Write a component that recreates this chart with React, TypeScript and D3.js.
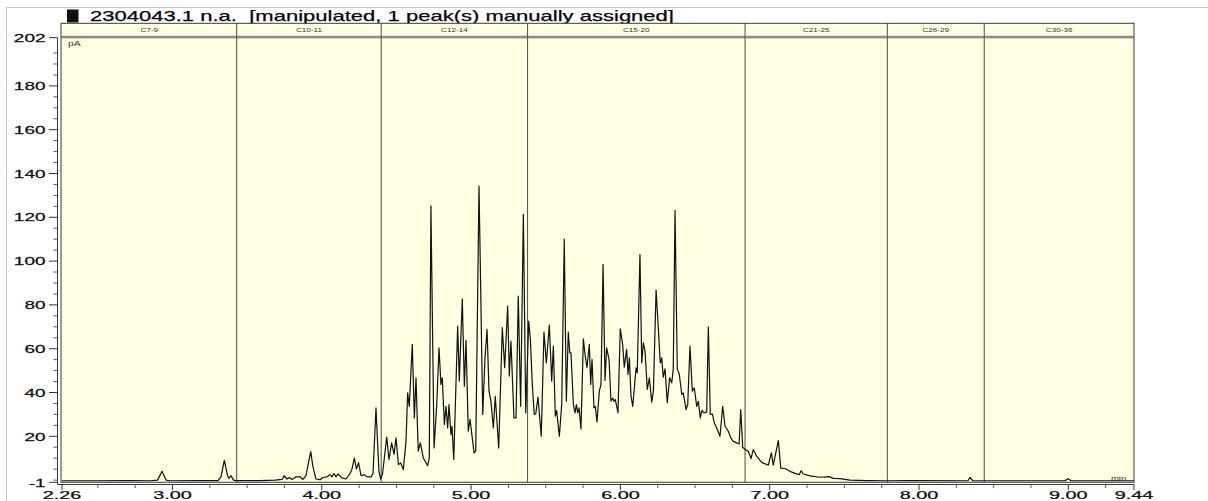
import React, { useEffect, useRef } from 'react';
import * as d3 from 'd3';

// carbon-range windows along the run (minutes)
const regionNames = ['C7-9', 'C10-11', 'C12-14', 'C15-20', 'C21-25', 'C26-29', 'C30-36'];
const regionEdges = [2.26, 3.43, 4.398, 5.378, 6.835, 7.788, 8.437, 9.44];

const xTickLabels = [2.26, 3, 4, 5, 6, 7, 8, 9, 9.44];
const yTickLabels = [-1, 20, 40, 60, 80, 100, 120, 140, 160, 180, 202];

// chromatogram trace: time (min) / signal (pA)
const retentionTimes = [
  2.26, 2.5, 2.7, 2.85, 2.9, 2.93, 2.957, 2.983, 3.184, 3.305, 3.325, 3.347, 3.369, 3.379, 3.392, 3.409,
  3.425, 3.586, 3.687, 3.734, 3.747, 3.767, 3.783, 3.801, 3.827, 3.854, 3.874, 3.894, 3.911, 3.926, 3.941,
  3.961, 3.988, 4.008, 4.035, 4.055, 4.068, 4.082, 4.095, 4.109, 4.135, 4.162, 4.189, 4.202, 4.218, 4.232,
  4.246, 4.263, 4.283, 4.303, 4.33, 4.343, 4.353, 4.363, 4.373, 4.383, 4.394, 4.407,
  4.435, 4.45, 4.468, 4.484, 4.497, 4.513, 4.529, 4.546, 4.564, 4.575, 4.586, 4.606, 4.62, 4.631, 4.646,
  4.66, 4.68, 4.709, 4.72, 4.731, 4.752, 4.77, 4.785, 4.798, 4.807, 4.821, 4.832, 4.843, 4.852, 4.865,
  4.872, 4.884, 4.91, 4.921, 4.941, 4.955, 4.966, 4.981, 4.993, 5.02, 5.031, 5.053, 5.078, 5.093, 5.107,
  5.12, 5.133, 5.149, 5.162, 5.185, 5.209, 5.225, 5.245, 5.256, 5.267, 5.287, 5.301, 5.316, 5.332, 5.35,
  5.366, 5.386, 5.397, 5.41, 5.423, 5.433, 5.448, 5.47, 5.488, 5.504, 5.524, 5.54, 5.551, 5.564, 5.573,
  5.591, 5.607, 5.624, 5.638, 5.651, 5.661, 5.669, 5.685, 5.696, 5.705, 5.714, 5.723, 5.736, 5.752, 5.763,
  5.776, 5.792, 5.801, 5.81, 5.823, 5.832, 5.843, 5.859, 5.87, 5.884, 5.897, 5.908, 5.924, 5.937, 5.949,
  5.957, 5.966, 5.973, 5.984, 5.999, 6.015, 6.026, 6.042, 6.051, 6.06, 6.071, 6.083, 6.105, 6.113, 6.131,
  6.143, 6.154, 6.165, 6.18, 6.194, 6.21, 6.221, 6.239, 6.254, 6.267, 6.277, 6.287, 6.299, 6.314, 6.33,
  6.344, 6.354, 6.366, 6.381, 6.395, 6.411, 6.421, 6.44, 6.451, 6.466, 6.482, 6.495, 6.511, 6.522, 6.535,
  6.545, 6.56, 6.578, 6.589, 6.602, 6.616, 6.629, 6.645, 6.667, 6.685, 6.701, 6.723, 6.739, 6.756, 6.779,
  6.795, 6.806, 6.819, 6.835, 6.857, 6.875, 6.89, 6.913, 6.946, 6.991, 7.011, 7.024, 7.058, 7.074, 7.103,
  7.136, 7.17, 7.198, 7.21, 7.225, 7.27, 7.337, 7.399, 7.426, 7.471, 7.538, 7.65, 7.784, 7.94, 8.328,
  8.341, 8.361, 8.978, 8.998, 9.018, 9.44,
];
const signal = [
  -0.3, -0.3, -0.2, -0.3, 0, 4, 0, -0.3, -0.2, -0.2, 1.5, 9, 2, 0.8, 2, 0,
  -0.2, -0.2, 0, 0.3, 2, 0.5, 1.2, 0.3, 1.5, 1.5, 0.3, 2, 8, 13, 6,
  0.5, 0.2, 1.2, 1.5, 2.5, 1.5, 3, 1.5, 2.8, 1, 0.5, 3, 5, 10, 5,
  8, 2, 2.5, 1.5, 1.5, 3, 18, 33, 18, 4, 0.5, 3,
  19.6, 9.4, 17, 11.7, 19.3, 7.1, 7.8, 4.8, 17.7, 39.8, 33.7, 62, 28.4, 46.7, 13.2,
  17, 10.1, 6.6, 10.1, 125.2, 14.7, 34.5, 60.4, 43.7, 46.7, 25.4, 33.7, 23.8, 34.5, 20.8,
  24.6, 9.4, 70.3, 45.2, 82.8, 42.9, 63.8, 22.3, 27.7, 12.4, 13.2, 134.3, 30, 55.8, 68.8,
  40.6, 36, 23.8, 38.3, 14.7, 69.6, 51.3, 79.5, 47.5, 63.5, 28.4, 28.4, 84, 33.7, 121.4,
  30.7, 72.6, 64.2, 43.7, 30, 30.2, 37.9, 20, 67.6, 53.5, 70.8, 45.2, 61.2, 29.2, 31.8,
  20, 34.5, 110, 36, 67.6, 58.1, 58.1, 34.5, 30.7, 34.5, 30.7, 33, 23.4, 64.5, 57.4,
  51.3, 62, 43.7, 55.1, 33, 33.7, 26.6, 40.6, 43.7, 98.5, 45.5, 60.4, 55.1, 36, 37.5,
  36, 36.8, 34.5, 30.7, 69.1, 62, 51.6, 59.7, 48.2, 55.8, 38.3, 33.7, 51.3, 49, 103,
  53.5, 62.7, 58.9, 41.4, 46.7, 35.6, 40.6, 86.7, 69.6, 53.5, 55.8, 47, 50.8, 35.3, 46.7,
  44.4, 50.8, 123.2, 50.8, 48.2, 39.1, 39.8, 32.2, 34.5, 61.2, 40.6, 42.1, 33.7, 36, 28.4,
  31.8, 30.7, 31.1, 70, 30, 30.2, 26.1, 23.8, 20, 33.7, 24.6, 22.3, 19.3, 17.7, 17,
  16.5, 32.2, 15, 14, 13.2, 9.8, 14, 10.9, 8.1, 6.8, 12.4, 6.8, 18.1, 5.5, 5.3,
  4, 3.1, 2.5, 4.3, 2.8, 1.9, 1.3, 1.6, 0.8, 0.7, 0, -0.2, -0.3, -0.2, -0.3,
  1.2, -0.3, -0.3, 0.6, -0.3, -0.3,
];

const W = 1208;
const H = 501;
const plot = { left: 62, right: 1134, top: 37.7, bottom: 482.3, header: 23.3 };
const bg = '#ffffe2';
const font = '"Liberation Sans", Arial, sans-serif';

const Chromatogram = () => {
  const svgRef = useRef<SVGSVGElement>(null);

  useEffect(() => {
    const svg = d3.select(svgRef.current);
    svg.selectAll('*').remove();

    const x = d3.scaleLinear().domain([2.26, 9.44]).range([plot.left, plot.right]);
    const y = d3.scaleLinear().domain([-1, 202]).range([plot.bottom, plot.top]);

    svg.append('rect').attr('width', W).attr('height', H).attr('fill', '#fff');

    // outer frame of the report page
    svg.append('path')
      .attr('d', `M6.5,${H}V7.5H${W}`)
      .attr('fill', 'none')
      .attr('stroke', '#c4c4c4');

    // title
    svg.append('rect')
      .attr('x', 67).attr('y', 9.5).attr('width', 11.5).attr('height', 13)
      .attr('fill', '#111');
    svg.append('text')
      .attr('x', 90).attr('y', 20.7)
      .attr('font-family', font).attr('font-size', 15)
      .attr('textLength', 584).attr('lengthAdjust', 'spacingAndGlyphs')
      .attr('stroke', '#111').attr('stroke-width', 0.25)
      .style('white-space', 'pre')
      .text('2304043.1 n.a.  [manipulated, 1 peak(s) manually assigned]');

    // header band + plot background
    svg.append('rect')
      .attr('x', plot.left - 1).attr('y', plot.header)
      .attr('width', plot.right - plot.left + 1).attr('height', plot.bottom - plot.header)
      .attr('fill', bg);
    svg.append('rect')
      .attr('x', plot.left - 1).attr('y', 35.8)
      .attr('width', plot.right - plot.left + 1).attr('height', 2.6)
      .attr('fill', '#8c8c8c');

    // region separators
    svg.append('g').selectAll('line')
      .data(regionEdges.slice(1, -1))
      .enter().append('line')
      .attr('x1', d => x(d)).attr('x2', d => x(d))
      .attr('y1', plot.header).attr('y2', plot.bottom)
      .attr('stroke', '#5a5a5a').attr('stroke-width', 1.1);

    // region names
    svg.append('g').selectAll('text')
      .data(regionNames)
      .enter().append('text')
      .attr('transform', (d, i) => `translate(${(x(regionEdges[i]) + x(regionEdges[i + 1])) / 2},32) scale(1.4,1)`)
      .attr('text-anchor', 'middle')
      .attr('font-family', font).attr('font-size', 5.8)
      .attr('fill', '#333')
      .text(d => d);

    // box outline
    svg.append('rect')
      .attr('x', plot.left - 1).attr('y', plot.header)
      .attr('width', plot.right - plot.left + 1).attr('height', plot.bottom - plot.header)
      .attr('fill', 'none').attr('stroke', '#3a3a3a').attr('stroke-width', 1);

    // unit labels
    svg.append('text')
      .attr('transform', 'translate(68,45.5) scale(1.6,1)')
      .attr('font-family', font).attr('font-size', 6.5).attr('fill', '#333')
      .text('pA');
    svg.append('text')
      .attr('transform', 'translate(1111,480.5) scale(1.45,1)')
      .attr('font-family', font).attr('font-size', 6.5).attr('fill', '#333')
      .text('min');

    // trace
    const pts = retentionTimes.map((t, i) => [t, signal[i]] as [number, number]);
    const line = d3.line<[number, number]>()
      .x(d => x(d[0]))
      .y(d => y(d[1]));
    svg.append('path')
      .datum(pts)
      .attr('d', line)
      .attr('fill', 'none')
      .attr('stroke', '#111')
      .attr('stroke-width', 1.2)
      .attr('stroke-linejoin', 'round');

    // y axis
    const yAxisX = 57.5;
    const axisY = 484.5;
    svg.append('line')
      .attr('x1', yAxisX).attr('x2', yAxisX)
      .attr('y1', plot.top).attr('y2', axisY)
      .attr('stroke', '#3a3a3a');
    const yMinor = d3.range(0, 201, 5).filter(v => v % 20 !== 0 || v === 0);
    svg.append('g').selectAll('line')
      .data(yMinor)
      .enter().append('line')
      .attr('x1', yAxisX - 4).attr('x2', yAxisX)
      .attr('y1', d => y(d)).attr('y2', d => y(d))
      .attr('stroke', '#555');
    svg.append('g').selectAll('line')
      .data(yTickLabels)
      .enter().append('line')
      .attr('x1', yAxisX - 8.5).attr('x2', yAxisX)
      .attr('y1', d => y(d)).attr('y2', d => y(d))
      .attr('stroke', '#333');
    svg.append('g').selectAll('text')
      .data(yTickLabels)
      .enter().append('text')
      .attr('transform', d => `translate(45.5,${y(d) + 4.2}) scale(1.65,1)`)
      .attr('text-anchor', 'end')
      .attr('font-family', font).attr('font-size', 11.5)
      .attr('fill', '#111').attr('stroke', '#111').attr('stroke-width', 0.25)
      .text(d => String(d));

    // x axis
    svg.append('line')
      .attr('x1', yAxisX).attr('x2', plot.right)
      .attr('y1', axisY).attr('y2', axisY)
      .attr('stroke', '#3a3a3a');
    const xMinor = d3.range(2.5, 9.3, 0.25).filter(v => Math.abs(v - Math.round(v)) > 0.01);
    svg.append('g').selectAll('line')
      .data(xMinor)
      .enter().append('line')
      .attr('x1', d => x(d)).attr('x2', d => x(d))
      .attr('y1', axisY).attr('y2', axisY + 3.5)
      .attr('stroke', '#555');
    svg.append('g').selectAll('line')
      .data(xTickLabels)
      .enter().append('line')
      .attr('x1', d => x(d)).attr('x2', d => x(d))
      .attr('y1', axisY).attr('y2', axisY + 5.5)
      .attr('stroke', '#333');
    svg.append('g').selectAll('text')
      .data(xTickLabels)
      .enter().append('text')
      .attr('transform', d => `translate(${x(d)},498.6) scale(1.8,1)`)
      .attr('text-anchor', 'middle')
      .attr('font-family', font).attr('font-size', 11)
      .attr('fill', '#111').attr('stroke', '#111').attr('stroke-width', 0.25)
      .text(d => d3.format('.2f')(d));
  }, []);

  return (
    <svg
      ref={svgRef}
      width={W}
      height={H}
      style={{ position: 'absolute', left: 0, top: 0, display: 'block' }}
    />
  );
};

export default function App() {
  return <Chromatogram />;
}
